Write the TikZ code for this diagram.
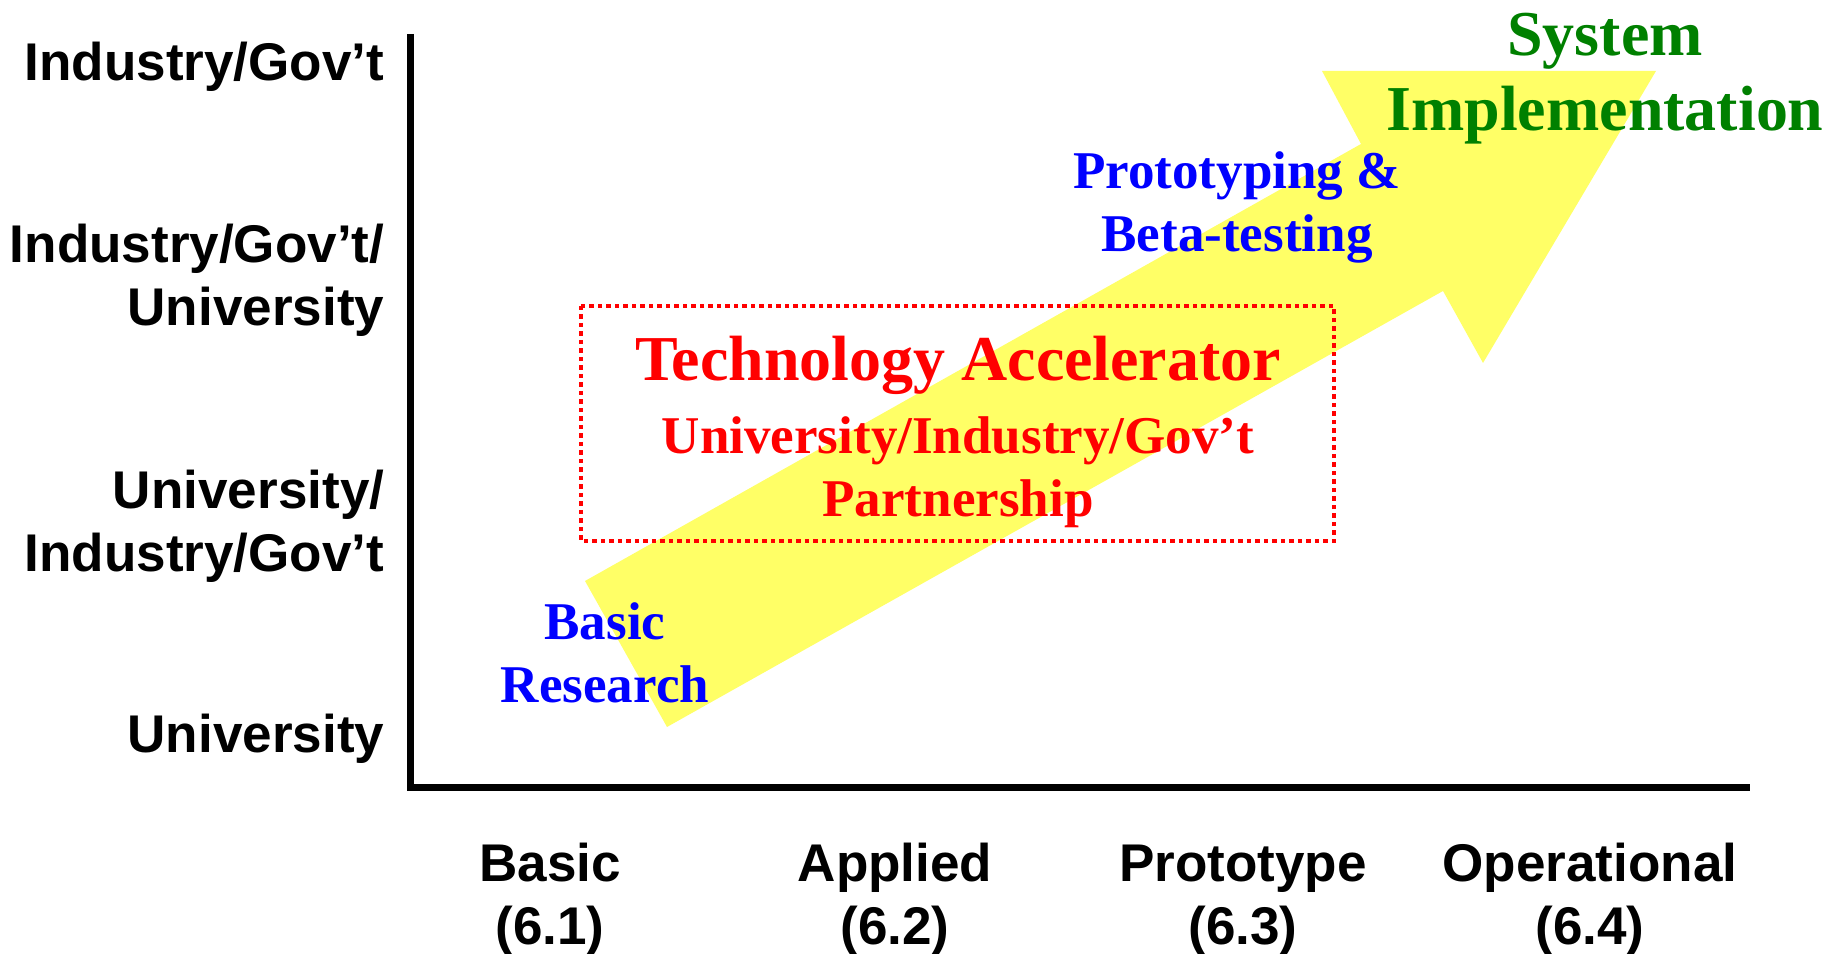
\documentclass[tikz,border=0pt]{standalone}
\usepackage{fontspec}
\setmainfont{Liberation Serif}
\setsansfont{Liberation Sans}
\usepackage{tikz}

\definecolor{arrowyellow}{RGB}{255,255,102}
\definecolor{sysgreen}{RGB}{0,128,0}

\tikzset{
  axislabel/.style={font=\sffamily\bfseries\fontsize{15.1}{18.2}\selectfont, inner sep=0pt},
  phase/.style={font=\bfseries\fontsize{15.1}{18.2}\selectfont, inner sep=0pt, align=center, anchor=base},
  accelbox/.style={draw=red, line width=0.045cm, dash pattern=on 0.045cm off 0.04cm},
}

\begin{document}
\begin{tikzpicture}
        \useasboundingbox (0,0) rectangle (18.33,9.54);

        % yellow arrow
        \fill[arrowyellow] (5.85,3.73) -- (6.67,2.27) -- (14.43,6.63) -- (14.83,5.91)
            -- (16.56,8.83) -- (13.22,8.83) -- (13.61,8.10) -- cycle;

        % axes
        \draw[line width=0.07cm, line join=miter] (4.10,9.20) |- (17.50,1.66);

        \node[axislabel, anchor=base east, align=right] (ig) at (3.85,8.73) {Industry/Gov’t};
        \node[axislabel, anchor=base east, align=right] (igu) at (3.85,6.28) {Industry/Gov’t/\\University};
        \node[axislabel, anchor=base east, align=right] (uig) at (3.85,3.82) {University/\\Industry/Gov’t};
        \node[axislabel, anchor=base east, align=right] (uni) at (3.85,2.01) {University};

        \foreach \x/\stage/\code [count=\i] in {5.50/Basic/6.1, 8.95/Applied/6.2, 12.43/Prototype/6.3, 15.90/Operational/6.4}
            \node[axislabel, anchor=base, align=center] (stage\i) at (\x,0.09) {\stage\\(\code)};

        % accelerator box
        \draw[accelbox] (5.81,6.48) rectangle (13.34,4.13);
        \node[phase, red, font=\bfseries\fontsize{18.2}{21}\selectfont] (accel) at (9.58,5.73) {Technology Accelerator};
        \node[phase, red] (partner) at (9.58,4.37) {University/Industry/Gov’t\\Partnership};

        \node[phase, blue] (basic) at (6.05,2.51) {Basic\\Research};
        \node[phase, blue] (proto) at (12.37,7.02) {Prototyping \&\\Beta-testing};
        \node[phase, sysgreen, font=\bfseries\fontsize{18.2}{21.6}\selectfont] (sys) at (16.05,8.23) {System\\Implementation};
    \end{tikzpicture}
\end{document}
